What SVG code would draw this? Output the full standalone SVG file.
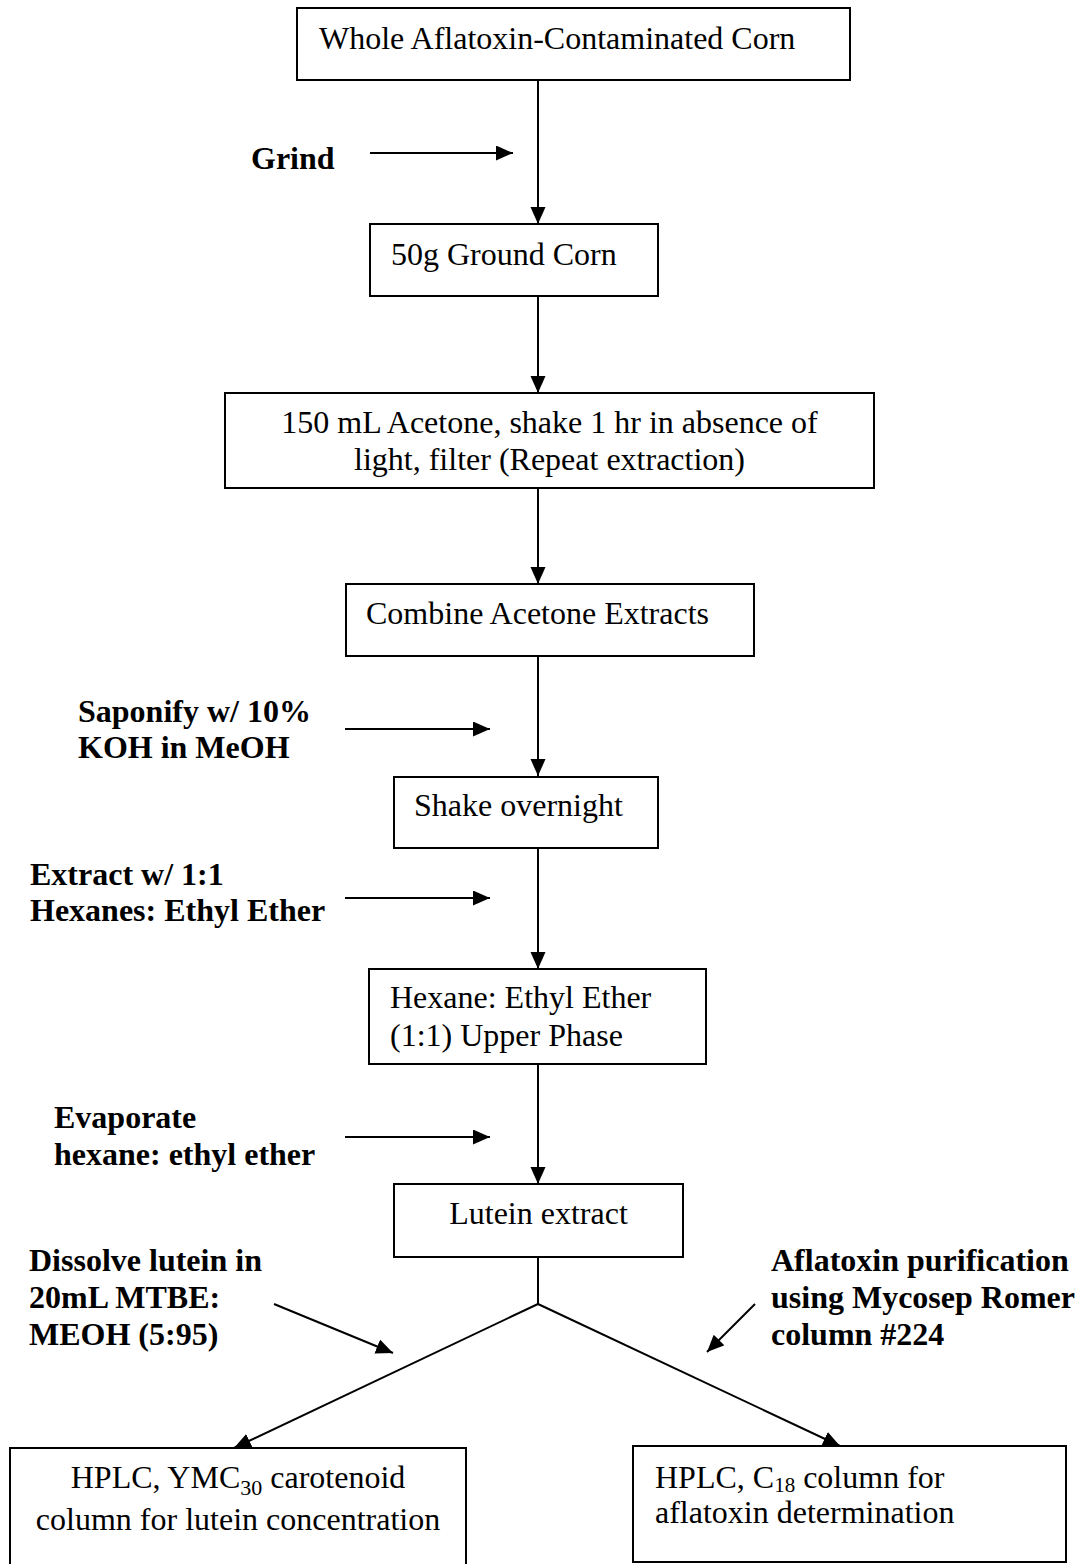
<svg xmlns="http://www.w3.org/2000/svg" width="1081" height="1564" viewBox="0 0 1081 1564">
<style>
.box{fill:#fff;stroke:#000;stroke-width:2}
.t{font-family:"Liberation Serif","Times New Roman",serif;font-size:32px;fill:#000}
.b{font-family:"Liberation Serif","Times New Roman",serif;font-size:32px;font-weight:bold;fill:#000}
.c{stroke:#000;stroke-width:2;fill:none}
</style>
<defs>
<marker id="ah" markerUnits="userSpaceOnUse" markerWidth="18" markerHeight="16" refX="17" refY="7.5" orient="auto">
<path d="M0,0 L17,7.5 L0,15 z" fill="#000"/>
</marker>
</defs>
<rect width="1081" height="1564" fill="#fff"/>
<g id="connectors">
<line class="c" x1="538" y1="80" x2="538" y2="224" marker-end="url(#ah)"/>
<line class="c" x1="538" y1="296" x2="538" y2="393" marker-end="url(#ah)"/>
<line class="c" x1="538" y1="488" x2="538" y2="584" marker-end="url(#ah)"/>
<line class="c" x1="538" y1="656" x2="538" y2="776" marker-end="url(#ah)"/>
<line class="c" x1="538" y1="848" x2="538" y2="969" marker-end="url(#ah)"/>
<line class="c" x1="538" y1="1064" x2="538" y2="1184" marker-end="url(#ah)"/>
<polyline class="c" points="538,1257 538,1304"/>
<line class="c" x1="538" y1="1304" x2="234" y2="1448" marker-end="url(#ah)"/>
<line class="c" x1="538" y1="1304" x2="840" y2="1446" marker-end="url(#ah)"/>
<line class="c" x1="370" y1="153" x2="513" y2="153" marker-end="url(#ah)"/>
<line class="c" x1="345" y1="729" x2="490" y2="729" marker-end="url(#ah)"/>
<line class="c" x1="345" y1="898" x2="490" y2="898" marker-end="url(#ah)"/>
<line class="c" x1="345" y1="1137" x2="490" y2="1137" marker-end="url(#ah)"/>
<line class="c" x1="274" y1="1304" x2="393" y2="1353" marker-end="url(#ah)"/>
<line class="c" x1="755" y1="1304" x2="707" y2="1352" marker-end="url(#ah)"/>
</g>
<g id="n1"><rect class="box" x="297" y="8" width="553" height="72"/><text class="t" x="319" y="49">Whole Aflatoxin-Contaminated Corn</text></g>
<g id="n2"><rect class="box" x="370" y="224" width="288" height="72"/><text class="t" x="391" y="265">50g Ground Corn</text></g>
<g id="n3"><rect class="box" x="225" y="393" width="649" height="95"/><text class="t" x="549.5" y="433" text-anchor="middle">150 mL Acetone, shake 1 hr in absence of</text><text class="t" x="549.5" y="470" text-anchor="middle">light, filter (Repeat extraction)</text></g>
<g id="n4"><rect class="box" x="346" y="584" width="408" height="72"/><text class="t" x="366" y="624">Combine Acetone Extracts</text></g>
<g id="n5"><rect class="box" x="394" y="777" width="264" height="71"/><text class="t" x="414" y="816">Shake overnight</text></g>
<g id="n6"><rect class="box" x="369" y="969" width="337" height="95"/><text class="t" x="390" y="1008">Hexane: Ethyl Ether</text><text class="t" x="390" y="1046">(1:1) Upper Phase</text></g>
<g id="n7"><rect class="box" x="394" y="1184" width="289" height="73"/><text class="t" x="538.5" y="1224" text-anchor="middle">Lutein extract</text></g>
<g id="n8"><rect class="box" x="10" y="1448" width="456" height="118"/><text class="t" x="238" y="1488" text-anchor="middle">HPLC, YMC<tspan font-size="22" dy="7">30</tspan><tspan dy="-7"> carotenoid</tspan></text><text class="t" x="238" y="1530" text-anchor="middle">column for lutein concentration</text></g>
<g id="n9"><rect class="box" x="633" y="1446" width="433" height="116"/><text class="t" x="655" y="1488">HPLC, C<tspan font-size="21" dy="4">18</tspan><tspan dy="-4"> column for</tspan></text><text class="t" x="655" y="1523">aflatoxin determination</text></g>
<g id="l1"><text class="b" x="251" y="169">Grind</text></g>
<g id="l2"><text class="b" x="78" y="722">Saponify w/ 10%</text><text class="b" x="78" y="758">KOH in MeOH</text></g>
<g id="l3"><text class="b" x="30" y="885">Extract w/ 1:1</text><text class="b" x="30" y="921">Hexanes: Ethyl Ether</text></g>
<g id="l4"><text class="b" x="54" y="1128">Evaporate</text><text class="b" x="54" y="1165">hexane: ethyl ether</text></g>
<g id="l5"><text class="b" x="29" y="1271">Dissolve lutein in</text><text class="b" x="29" y="1308">20mL MTBE:</text><text class="b" x="29" y="1345">MEOH (5:95)</text></g>
<g id="l6"><text class="b" x="771" y="1271">Aflatoxin purification</text><text class="b" x="771" y="1308">using Mycosep Romer</text><text class="b" x="771" y="1345">column #224</text></g>
</svg>
